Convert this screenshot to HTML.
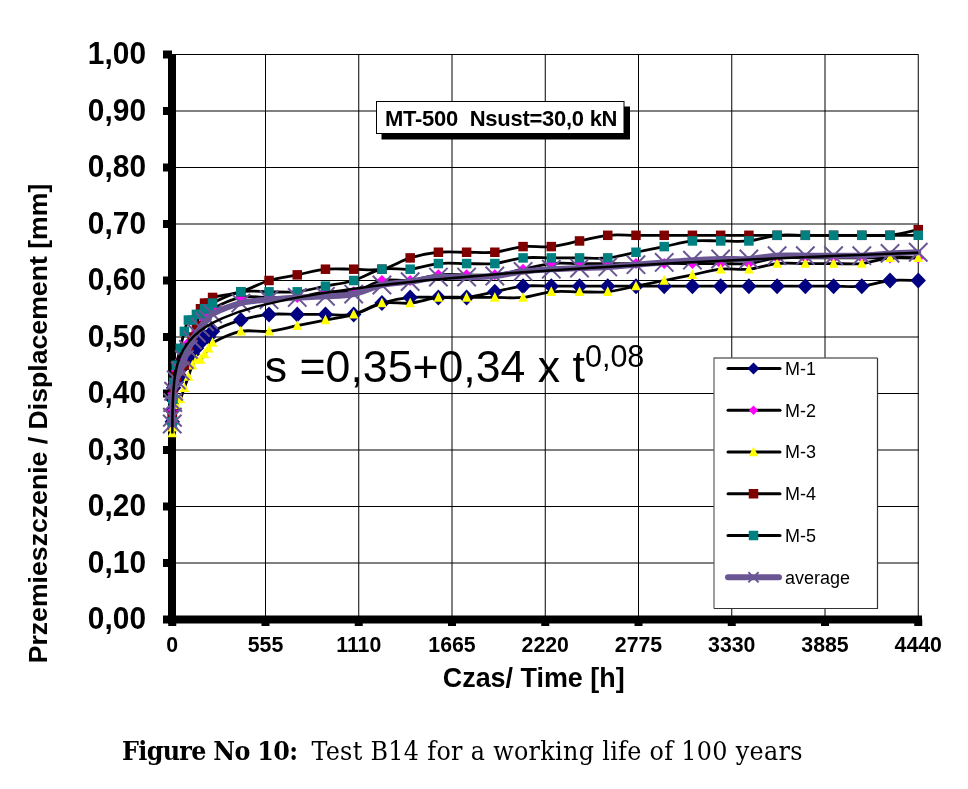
<!DOCTYPE html><html><head><meta charset="utf-8"><title>Figure No 10</title><style>
html,body{margin:0;padding:0;background:#fff;width:968px;height:789px;overflow:hidden}
svg{display:block;will-change:transform}
.ax{font-family:"Liberation Sans",Arial,sans-serif;font-weight:bold}
.rg{font-family:"Liberation Sans",Arial,sans-serif}
.sf{font-family:"DejaVu Serif Condensed","DejaVu Serif","Liberation Serif",serif}
</style></head><body>
<svg width="968" height="789" viewBox="0 0 968 789">
<rect width="968" height="789" fill="#fff"/>
<path d="M172 54.50H918.5 M172 111.00H918.5 M172 167.50H918.5 M172 224.00H918.5 M172 280.50H918.5 M172 337.00H918.5 M172 393.50H918.5 M172 450.00H918.5 M172 506.50H918.5 M172 563.00H918.5 M265.50 54.5V619.5 M358.75 54.5V619.5 M452.00 54.5V619.5 M545.25 54.5V619.5 M638.50 54.5V619.5 M731.75 54.5V619.5 M825.00 54.5V619.5 M918.25 54.5V619.5" stroke="#000" stroke-width="1" fill="none"/>
<g fill="#000">
<rect x="168" y="54.5" width="8" height="569"/>
<rect x="168" y="615.5" width="754" height="8"/>
<rect x="163" y="615.50" width="9" height="8"/>
<rect x="163" y="559.00" width="9" height="8"/>
<rect x="163" y="502.50" width="9" height="8"/>
<rect x="163" y="446.00" width="9" height="8"/>
<rect x="163" y="389.50" width="9" height="8"/>
<rect x="163" y="333.00" width="9" height="8"/>
<rect x="163" y="276.50" width="9" height="8"/>
<rect x="163" y="220.00" width="9" height="8"/>
<rect x="163" y="163.50" width="9" height="8"/>
<rect x="163" y="107.00" width="9" height="8"/>
<rect x="163" y="50.50" width="9" height="8"/>
<rect x="168.25" y="619.5" width="8" height="6.5"/>
<rect x="261.50" y="619.5" width="8" height="6.5"/>
<rect x="354.75" y="619.5" width="8" height="6.5"/>
<rect x="448.00" y="619.5" width="8" height="6.5"/>
<rect x="541.25" y="619.5" width="8" height="6.5"/>
<rect x="634.50" y="619.5" width="8" height="6.5"/>
<rect x="727.75" y="619.5" width="8" height="6.5"/>
<rect x="821.00" y="619.5" width="8" height="6.5"/>
<rect x="914.25" y="619.5" width="8" height="6.5"/>
</g>
<text x="264.8" y="381.5" class="rg" font-size="44.65" fill="#000">s =0,35+0,34 x t<tspan font-size="30.5" dy="-14.6">0,08</tspan></text>
<rect x="381.5" y="106.5" width="248.5" height="33" fill="#000"/>
<rect x="376.5" y="101.5" width="247.5" height="32" fill="#fff" stroke="#000" stroke-width="1"/>
<text x="385" y="126" class="ax" font-size="22" xml:space="preserve" style="white-space:pre" textLength="232.5" lengthAdjust="spacing">MT-500  Nsust=30,0 kN</text>
<path d="M172.25 421.75 C172.28 419.87 172.33 414.22 172.42 410.45 C172.50 406.68 172.56 402.92 172.75 399.15 C172.95 395.38 173.01 390.68 173.59 387.85 C174.18 385.03 175.16 384.08 176.28 382.20 C177.40 380.32 178.97 379.38 180.31 376.55 C181.66 373.73 183.00 368.07 184.35 365.25 C185.69 362.43 187.04 361.48 188.38 359.60 C189.72 357.72 191.07 355.83 192.41 353.95 C193.76 352.07 195.10 350.18 196.44 348.30 C197.79 346.42 199.13 344.53 200.48 342.65 C201.82 340.77 203.17 337.94 204.51 337.00 C205.85 336.06 207.20 337.94 208.54 337.00 C209.89 336.06 207.20 334.18 212.57 331.35 C217.95 328.53 231.39 322.88 240.80 320.05 C250.21 317.23 259.62 315.34 269.03 314.40 C278.44 313.46 287.85 314.40 297.26 314.40 C306.66 314.40 316.07 314.40 325.48 314.40 C334.89 314.40 344.30 316.28 353.71 314.40 C363.12 312.52 372.53 305.92 381.94 303.10 C391.35 300.27 400.75 298.39 410.16 297.45 C419.57 296.51 428.98 297.45 438.39 297.45 C447.80 297.45 457.21 298.39 466.62 297.45 C476.03 296.51 485.44 293.68 494.84 291.80 C504.25 289.92 513.66 287.09 523.07 286.15 C532.48 285.21 541.89 286.15 551.30 286.15 C560.71 286.15 570.12 286.15 579.53 286.15 C588.93 286.15 598.34 286.15 607.75 286.15 C617.16 286.15 626.57 286.15 635.98 286.15 C645.39 286.15 654.80 286.15 664.21 286.15 C673.62 286.15 683.02 286.15 692.43 286.15 C701.84 286.15 711.25 286.15 720.66 286.15 C730.07 286.15 739.48 286.15 748.89 286.15 C758.30 286.15 767.71 286.15 777.11 286.15 C786.52 286.15 795.93 286.15 805.34 286.15 C814.75 286.15 824.16 286.15 833.57 286.15 C842.98 286.15 852.39 287.09 861.80 286.15 C871.20 285.21 880.61 281.44 890.02 280.50 C899.43 279.56 913.55 280.50 918.25 280.50" stroke="#000" stroke-width="2.8" fill="none" stroke-linejoin="round" stroke-linecap="round"/>
<path d="M172.25 413.75L179.95 421.75L172.25 429.75L164.55 421.75Z" fill="#000080"/><path d="M172.42 402.45L180.12 410.45L172.42 418.45L164.72 410.45Z" fill="#000080"/><path d="M172.75 391.15L180.45 399.15L172.75 407.15L165.05 399.15Z" fill="#000080"/><path d="M173.59 379.85L181.29 387.85L173.59 395.85L165.89 387.85Z" fill="#000080"/><path d="M176.28 374.20L183.98 382.20L176.28 390.20L168.58 382.20Z" fill="#000080"/><path d="M180.31 368.55L188.01 376.55L180.31 384.55L172.61 376.55Z" fill="#000080"/><path d="M184.35 357.25L192.05 365.25L184.35 373.25L176.65 365.25Z" fill="#000080"/><path d="M188.38 351.60L196.08 359.60L188.38 367.60L180.68 359.60Z" fill="#000080"/><path d="M192.41 345.95L200.11 353.95L192.41 361.95L184.71 353.95Z" fill="#000080"/><path d="M196.44 340.30L204.14 348.30L196.44 356.30L188.74 348.30Z" fill="#000080"/><path d="M200.48 334.65L208.18 342.65L200.48 350.65L192.78 342.65Z" fill="#000080"/><path d="M204.51 329.00L212.21 337.00L204.51 345.00L196.81 337.00Z" fill="#000080"/><path d="M208.54 329.00L216.24 337.00L208.54 345.00L200.84 337.00Z" fill="#000080"/><path d="M212.57 323.35L220.27 331.35L212.57 339.35L204.87 331.35Z" fill="#000080"/><path d="M240.80 312.05L248.50 320.05L240.80 328.05L233.10 320.05Z" fill="#000080"/><path d="M269.03 306.40L276.73 314.40L269.03 322.40L261.33 314.40Z" fill="#000080"/><path d="M297.26 306.40L304.96 314.40L297.26 322.40L289.56 314.40Z" fill="#000080"/><path d="M325.48 306.40L333.18 314.40L325.48 322.40L317.78 314.40Z" fill="#000080"/><path d="M353.71 306.40L361.41 314.40L353.71 322.40L346.01 314.40Z" fill="#000080"/><path d="M381.94 295.10L389.64 303.10L381.94 311.10L374.24 303.10Z" fill="#000080"/><path d="M410.16 289.45L417.86 297.45L410.16 305.45L402.46 297.45Z" fill="#000080"/><path d="M438.39 289.45L446.09 297.45L438.39 305.45L430.69 297.45Z" fill="#000080"/><path d="M466.62 289.45L474.32 297.45L466.62 305.45L458.92 297.45Z" fill="#000080"/><path d="M494.84 283.80L502.54 291.80L494.84 299.80L487.14 291.80Z" fill="#000080"/><path d="M523.07 278.15L530.77 286.15L523.07 294.15L515.37 286.15Z" fill="#000080"/><path d="M551.30 278.15L559.00 286.15L551.30 294.15L543.60 286.15Z" fill="#000080"/><path d="M579.53 278.15L587.23 286.15L579.53 294.15L571.83 286.15Z" fill="#000080"/><path d="M607.75 278.15L615.45 286.15L607.75 294.15L600.05 286.15Z" fill="#000080"/><path d="M635.98 278.15L643.68 286.15L635.98 294.15L628.28 286.15Z" fill="#000080"/><path d="M664.21 278.15L671.91 286.15L664.21 294.15L656.51 286.15Z" fill="#000080"/><path d="M692.43 278.15L700.13 286.15L692.43 294.15L684.73 286.15Z" fill="#000080"/><path d="M720.66 278.15L728.36 286.15L720.66 294.15L712.96 286.15Z" fill="#000080"/><path d="M748.89 278.15L756.59 286.15L748.89 294.15L741.19 286.15Z" fill="#000080"/><path d="M777.11 278.15L784.81 286.15L777.11 294.15L769.41 286.15Z" fill="#000080"/><path d="M805.34 278.15L813.04 286.15L805.34 294.15L797.64 286.15Z" fill="#000080"/><path d="M833.57 278.15L841.27 286.15L833.57 294.15L825.87 286.15Z" fill="#000080"/><path d="M861.80 278.15L869.50 286.15L861.80 294.15L854.10 286.15Z" fill="#000080"/><path d="M890.02 272.50L897.72 280.50L890.02 288.50L882.32 280.50Z" fill="#000080"/><path d="M918.25 272.50L925.95 280.50L918.25 288.50L910.55 280.50Z" fill="#000080"/>
<path d="M172.25 427.40 C172.28 424.57 172.33 416.10 172.42 410.45 C172.50 404.80 172.56 398.21 172.75 393.50 C172.95 388.79 173.01 385.97 173.59 382.20 C174.18 378.43 175.16 374.67 176.28 370.90 C177.40 367.13 178.97 363.37 180.31 359.60 C181.66 355.83 183.00 351.12 184.35 348.30 C185.69 345.48 187.04 344.53 188.38 342.65 C189.72 340.77 191.07 338.88 192.41 337.00 C193.76 335.12 195.10 333.23 196.44 331.35 C197.79 329.47 199.13 327.58 200.48 325.70 C201.82 323.82 203.17 321.93 204.51 320.05 C205.85 318.17 207.20 316.28 208.54 314.40 C209.89 312.52 207.20 311.57 212.57 308.75 C217.95 305.93 231.39 299.33 240.80 297.45 C250.21 295.57 259.62 297.45 269.03 297.45 C278.44 297.45 287.85 298.39 297.26 297.45 C306.66 296.51 316.07 292.74 325.48 291.80 C334.89 290.86 344.30 293.68 353.71 291.80 C363.12 289.92 372.53 282.38 381.94 280.50 C391.35 278.62 400.75 281.44 410.16 280.50 C419.57 279.56 428.98 275.79 438.39 274.85 C447.80 273.91 457.21 274.85 466.62 274.85 C476.03 274.85 485.44 275.79 494.84 274.85 C504.25 273.91 513.66 271.08 523.07 269.20 C532.48 267.32 541.89 264.49 551.30 263.55 C560.71 262.61 570.12 263.55 579.53 263.55 C588.93 263.55 598.34 263.55 607.75 263.55 C617.16 263.55 626.57 263.55 635.98 263.55 C645.39 263.55 654.80 263.55 664.21 263.55 C673.62 263.55 683.02 263.55 692.43 263.55 C701.84 263.55 711.25 263.55 720.66 263.55 C730.07 263.55 739.48 264.49 748.89 263.55 C758.30 262.61 767.71 258.84 777.11 257.90 C786.52 256.96 795.93 257.90 805.34 257.90 C814.75 257.90 824.16 257.90 833.57 257.90 C842.98 257.90 852.39 257.90 861.80 257.90 C871.20 257.90 880.61 257.90 890.02 257.90 C899.43 257.90 913.55 257.90 918.25 257.90" stroke="#000" stroke-width="2.8" fill="none" stroke-linejoin="round" stroke-linecap="round"/>
<path d="M172.25 421.90L177.75 427.40L172.25 432.90L166.75 427.40Z" fill="#FF00FF"/><path d="M172.42 404.95L177.92 410.45L172.42 415.95L166.92 410.45Z" fill="#FF00FF"/><path d="M172.75 388.00L178.25 393.50L172.75 399.00L167.25 393.50Z" fill="#FF00FF"/><path d="M173.59 376.70L179.09 382.20L173.59 387.70L168.09 382.20Z" fill="#FF00FF"/><path d="M176.28 365.40L181.78 370.90L176.28 376.40L170.78 370.90Z" fill="#FF00FF"/><path d="M180.31 354.10L185.81 359.60L180.31 365.10L174.81 359.60Z" fill="#FF00FF"/><path d="M184.35 342.80L189.85 348.30L184.35 353.80L178.85 348.30Z" fill="#FF00FF"/><path d="M188.38 337.15L193.88 342.65L188.38 348.15L182.88 342.65Z" fill="#FF00FF"/><path d="M192.41 331.50L197.91 337.00L192.41 342.50L186.91 337.00Z" fill="#FF00FF"/><path d="M196.44 325.85L201.94 331.35L196.44 336.85L190.94 331.35Z" fill="#FF00FF"/><path d="M200.48 320.20L205.98 325.70L200.48 331.20L194.98 325.70Z" fill="#FF00FF"/><path d="M204.51 314.55L210.01 320.05L204.51 325.55L199.01 320.05Z" fill="#FF00FF"/><path d="M208.54 308.90L214.04 314.40L208.54 319.90L203.04 314.40Z" fill="#FF00FF"/><path d="M212.57 303.25L218.07 308.75L212.57 314.25L207.07 308.75Z" fill="#FF00FF"/><path d="M240.80 291.95L246.30 297.45L240.80 302.95L235.30 297.45Z" fill="#FF00FF"/><path d="M269.03 291.95L274.53 297.45L269.03 302.95L263.53 297.45Z" fill="#FF00FF"/><path d="M297.26 291.95L302.76 297.45L297.26 302.95L291.76 297.45Z" fill="#FF00FF"/><path d="M325.48 286.30L330.98 291.80L325.48 297.30L319.98 291.80Z" fill="#FF00FF"/><path d="M353.71 286.30L359.21 291.80L353.71 297.30L348.21 291.80Z" fill="#FF00FF"/><path d="M381.94 275.00L387.44 280.50L381.94 286.00L376.44 280.50Z" fill="#FF00FF"/><path d="M410.16 275.00L415.66 280.50L410.16 286.00L404.66 280.50Z" fill="#FF00FF"/><path d="M438.39 269.35L443.89 274.85L438.39 280.35L432.89 274.85Z" fill="#FF00FF"/><path d="M466.62 269.35L472.12 274.85L466.62 280.35L461.12 274.85Z" fill="#FF00FF"/><path d="M494.84 269.35L500.34 274.85L494.84 280.35L489.34 274.85Z" fill="#FF00FF"/><path d="M523.07 263.70L528.57 269.20L523.07 274.70L517.57 269.20Z" fill="#FF00FF"/><path d="M551.30 258.05L556.80 263.55L551.30 269.05L545.80 263.55Z" fill="#FF00FF"/><path d="M579.53 258.05L585.03 263.55L579.53 269.05L574.03 263.55Z" fill="#FF00FF"/><path d="M607.75 258.05L613.25 263.55L607.75 269.05L602.25 263.55Z" fill="#FF00FF"/><path d="M635.98 258.05L641.48 263.55L635.98 269.05L630.48 263.55Z" fill="#FF00FF"/><path d="M664.21 258.05L669.71 263.55L664.21 269.05L658.71 263.55Z" fill="#FF00FF"/><path d="M692.43 258.05L697.93 263.55L692.43 269.05L686.93 263.55Z" fill="#FF00FF"/><path d="M720.66 258.05L726.16 263.55L720.66 269.05L715.16 263.55Z" fill="#FF00FF"/><path d="M748.89 258.05L754.39 263.55L748.89 269.05L743.39 263.55Z" fill="#FF00FF"/><path d="M777.11 252.40L782.61 257.90L777.11 263.40L771.61 257.90Z" fill="#FF00FF"/><path d="M805.34 252.40L810.84 257.90L805.34 263.40L799.84 257.90Z" fill="#FF00FF"/><path d="M833.57 252.40L839.07 257.90L833.57 263.40L828.07 257.90Z" fill="#FF00FF"/><path d="M861.80 252.40L867.30 257.90L861.80 263.40L856.30 257.90Z" fill="#FF00FF"/><path d="M890.02 252.40L895.52 257.90L890.02 263.40L884.52 257.90Z" fill="#FF00FF"/><path d="M918.25 252.40L923.75 257.90L918.25 263.40L912.75 257.90Z" fill="#FF00FF"/>
<path d="M172.25 433.05 C172.28 432.11 172.33 429.28 172.42 427.40 C172.50 425.52 172.56 423.63 172.75 421.75 C172.95 419.87 173.01 418.93 173.59 416.10 C174.18 413.28 175.16 407.62 176.28 404.80 C177.40 401.98 178.97 401.97 180.31 399.15 C181.66 396.32 183.00 391.62 184.35 387.85 C185.69 384.08 187.04 380.32 188.38 376.55 C189.72 372.78 191.07 368.07 192.41 365.25 C193.76 362.43 195.10 360.54 196.44 359.60 C197.79 358.66 199.13 360.54 200.48 359.60 C201.82 358.66 203.17 355.83 204.51 353.95 C205.85 352.07 207.20 350.18 208.54 348.30 C209.89 346.42 207.20 345.47 212.57 342.65 C217.95 339.82 231.39 333.23 240.80 331.35 C250.21 329.47 259.62 332.29 269.03 331.35 C278.44 330.41 287.85 327.58 297.26 325.70 C306.66 323.82 316.07 321.93 325.48 320.05 C334.89 318.17 344.30 317.22 353.71 314.40 C363.12 311.57 372.53 304.98 381.94 303.10 C391.35 301.22 400.75 304.04 410.16 303.10 C419.57 302.16 428.98 298.39 438.39 297.45 C447.80 296.51 457.21 297.45 466.62 297.45 C476.03 297.45 485.44 297.45 494.84 297.45 C504.25 297.45 513.66 298.39 523.07 297.45 C532.48 296.51 541.89 292.74 551.30 291.80 C560.71 290.86 570.12 291.80 579.53 291.80 C588.93 291.80 598.34 292.74 607.75 291.80 C617.16 290.86 626.57 288.03 635.98 286.15 C645.39 284.27 654.80 282.38 664.21 280.50 C673.62 278.62 683.02 276.73 692.43 274.85 C701.84 272.97 711.25 270.14 720.66 269.20 C730.07 268.26 739.48 270.14 748.89 269.20 C758.30 268.26 767.71 264.49 777.11 263.55 C786.52 262.61 795.93 263.55 805.34 263.55 C814.75 263.55 824.16 263.55 833.57 263.55 C842.98 263.55 852.39 264.49 861.80 263.55 C871.20 262.61 880.61 258.84 890.02 257.90 C899.43 256.96 913.55 257.90 918.25 257.90" stroke="#000" stroke-width="2.8" fill="none" stroke-linejoin="round" stroke-linecap="round"/>
<path d="M172.25 427.55L177.05 437.25L167.45 437.25Z" fill="#FFFF00"/><path d="M172.42 421.90L177.22 431.60L167.62 431.60Z" fill="#FFFF00"/><path d="M172.75 416.25L177.55 425.95L167.95 425.95Z" fill="#FFFF00"/><path d="M173.59 410.60L178.39 420.30L168.79 420.30Z" fill="#FFFF00"/><path d="M176.28 399.30L181.08 409.00L171.48 409.00Z" fill="#FFFF00"/><path d="M180.31 393.65L185.11 403.35L175.51 403.35Z" fill="#FFFF00"/><path d="M184.35 382.35L189.15 392.05L179.55 392.05Z" fill="#FFFF00"/><path d="M188.38 371.05L193.18 380.75L183.58 380.75Z" fill="#FFFF00"/><path d="M192.41 359.75L197.21 369.45L187.61 369.45Z" fill="#FFFF00"/><path d="M196.44 354.10L201.24 363.80L191.64 363.80Z" fill="#FFFF00"/><path d="M200.48 354.10L205.28 363.80L195.68 363.80Z" fill="#FFFF00"/><path d="M204.51 348.45L209.31 358.15L199.71 358.15Z" fill="#FFFF00"/><path d="M208.54 342.80L213.34 352.50L203.74 352.50Z" fill="#FFFF00"/><path d="M212.57 337.15L217.37 346.85L207.77 346.85Z" fill="#FFFF00"/><path d="M240.80 325.85L245.60 335.55L236.00 335.55Z" fill="#FFFF00"/><path d="M269.03 325.85L273.83 335.55L264.23 335.55Z" fill="#FFFF00"/><path d="M297.26 320.20L302.06 329.90L292.46 329.90Z" fill="#FFFF00"/><path d="M325.48 314.55L330.28 324.25L320.68 324.25Z" fill="#FFFF00"/><path d="M353.71 308.90L358.51 318.60L348.91 318.60Z" fill="#FFFF00"/><path d="M381.94 297.60L386.74 307.30L377.14 307.30Z" fill="#FFFF00"/><path d="M410.16 297.60L414.96 307.30L405.36 307.30Z" fill="#FFFF00"/><path d="M438.39 291.95L443.19 301.65L433.59 301.65Z" fill="#FFFF00"/><path d="M466.62 291.95L471.42 301.65L461.82 301.65Z" fill="#FFFF00"/><path d="M494.84 291.95L499.64 301.65L490.04 301.65Z" fill="#FFFF00"/><path d="M523.07 291.95L527.87 301.65L518.27 301.65Z" fill="#FFFF00"/><path d="M551.30 286.30L556.10 296.00L546.50 296.00Z" fill="#FFFF00"/><path d="M579.53 286.30L584.33 296.00L574.73 296.00Z" fill="#FFFF00"/><path d="M607.75 286.30L612.55 296.00L602.95 296.00Z" fill="#FFFF00"/><path d="M635.98 280.65L640.78 290.35L631.18 290.35Z" fill="#FFFF00"/><path d="M664.21 275.00L669.01 284.70L659.41 284.70Z" fill="#FFFF00"/><path d="M692.43 269.35L697.23 279.05L687.63 279.05Z" fill="#FFFF00"/><path d="M720.66 263.70L725.46 273.40L715.86 273.40Z" fill="#FFFF00"/><path d="M748.89 263.70L753.69 273.40L744.09 273.40Z" fill="#FFFF00"/><path d="M777.11 258.05L781.91 267.75L772.31 267.75Z" fill="#FFFF00"/><path d="M805.34 258.05L810.14 267.75L800.54 267.75Z" fill="#FFFF00"/><path d="M833.57 258.05L838.37 267.75L828.77 267.75Z" fill="#FFFF00"/><path d="M861.80 258.05L866.60 267.75L857.00 267.75Z" fill="#FFFF00"/><path d="M890.02 252.40L894.82 262.10L885.22 262.10Z" fill="#FFFF00"/><path d="M918.25 252.40L923.05 262.10L913.45 262.10Z" fill="#FFFF00"/>
<path d="M172.25 416.10 C172.28 416.10 172.33 418.93 172.42 416.10 C172.50 413.28 172.56 403.86 172.75 399.15 C172.95 394.44 173.01 391.62 173.59 387.85 C174.18 384.08 175.16 379.38 176.28 376.55 C177.40 373.73 178.97 372.78 180.31 370.90 C181.66 369.02 183.00 369.02 184.35 365.25 C185.69 361.48 187.04 353.01 188.38 348.30 C189.72 343.59 191.07 340.77 192.41 337.00 C193.76 333.23 195.10 330.41 196.44 325.70 C197.79 320.99 199.13 312.52 200.48 308.75 C201.82 304.98 203.17 304.04 204.51 303.10 C205.85 302.16 207.20 304.04 208.54 303.10 C209.89 302.16 207.20 299.33 212.57 297.45 C217.95 295.57 231.39 294.62 240.80 291.80 C250.21 288.98 259.62 283.32 269.03 280.50 C278.44 277.68 287.85 276.73 297.26 274.85 C306.66 272.97 316.07 270.14 325.48 269.20 C334.89 268.26 344.30 269.20 353.71 269.20 C363.12 269.20 372.53 271.08 381.94 269.20 C391.35 267.32 400.75 260.72 410.16 257.90 C419.57 255.07 428.98 253.19 438.39 252.25 C447.80 251.31 457.21 252.25 466.62 252.25 C476.03 252.25 485.44 253.19 494.84 252.25 C504.25 251.31 513.66 247.54 523.07 246.60 C532.48 245.66 541.89 247.54 551.30 246.60 C560.71 245.66 570.12 242.83 579.53 240.95 C588.93 239.07 598.34 236.24 607.75 235.30 C617.16 234.36 626.57 235.30 635.98 235.30 C645.39 235.30 654.80 235.30 664.21 235.30 C673.62 235.30 683.02 235.30 692.43 235.30 C701.84 235.30 711.25 235.30 720.66 235.30 C730.07 235.30 739.48 235.30 748.89 235.30 C758.30 235.30 767.71 235.30 777.11 235.30 C786.52 235.30 795.93 235.30 805.34 235.30 C814.75 235.30 824.16 235.30 833.57 235.30 C842.98 235.30 852.39 235.30 861.80 235.30 C871.20 235.30 880.61 236.24 890.02 235.30 C899.43 234.36 913.55 230.59 918.25 229.65" stroke="#000" stroke-width="2.8" fill="none" stroke-linejoin="round" stroke-linecap="round"/>
<rect x="167.50" y="411.35" width="9.5" height="9.5" fill="#800000"/><rect x="167.67" y="411.35" width="9.5" height="9.5" fill="#800000"/><rect x="168.00" y="394.40" width="9.5" height="9.5" fill="#800000"/><rect x="168.84" y="383.10" width="9.5" height="9.5" fill="#800000"/><rect x="171.53" y="371.80" width="9.5" height="9.5" fill="#800000"/><rect x="175.56" y="366.15" width="9.5" height="9.5" fill="#800000"/><rect x="179.60" y="360.50" width="9.5" height="9.5" fill="#800000"/><rect x="183.63" y="343.55" width="9.5" height="9.5" fill="#800000"/><rect x="187.66" y="332.25" width="9.5" height="9.5" fill="#800000"/><rect x="191.69" y="320.95" width="9.5" height="9.5" fill="#800000"/><rect x="195.73" y="304.00" width="9.5" height="9.5" fill="#800000"/><rect x="199.76" y="298.35" width="9.5" height="9.5" fill="#800000"/><rect x="203.79" y="298.35" width="9.5" height="9.5" fill="#800000"/><rect x="207.82" y="292.70" width="9.5" height="9.5" fill="#800000"/><rect x="236.05" y="287.05" width="9.5" height="9.5" fill="#800000"/><rect x="264.28" y="275.75" width="9.5" height="9.5" fill="#800000"/><rect x="292.51" y="270.10" width="9.5" height="9.5" fill="#800000"/><rect x="320.73" y="264.45" width="9.5" height="9.5" fill="#800000"/><rect x="348.96" y="264.45" width="9.5" height="9.5" fill="#800000"/><rect x="377.19" y="264.45" width="9.5" height="9.5" fill="#800000"/><rect x="405.41" y="253.15" width="9.5" height="9.5" fill="#800000"/><rect x="433.64" y="247.50" width="9.5" height="9.5" fill="#800000"/><rect x="461.87" y="247.50" width="9.5" height="9.5" fill="#800000"/><rect x="490.09" y="247.50" width="9.5" height="9.5" fill="#800000"/><rect x="518.32" y="241.85" width="9.5" height="9.5" fill="#800000"/><rect x="546.55" y="241.85" width="9.5" height="9.5" fill="#800000"/><rect x="574.78" y="236.20" width="9.5" height="9.5" fill="#800000"/><rect x="603.00" y="230.55" width="9.5" height="9.5" fill="#800000"/><rect x="631.23" y="230.55" width="9.5" height="9.5" fill="#800000"/><rect x="659.46" y="230.55" width="9.5" height="9.5" fill="#800000"/><rect x="687.68" y="230.55" width="9.5" height="9.5" fill="#800000"/><rect x="715.91" y="230.55" width="9.5" height="9.5" fill="#800000"/><rect x="744.14" y="230.55" width="9.5" height="9.5" fill="#800000"/><rect x="772.36" y="230.55" width="9.5" height="9.5" fill="#800000"/><rect x="800.59" y="230.55" width="9.5" height="9.5" fill="#800000"/><rect x="828.82" y="230.55" width="9.5" height="9.5" fill="#800000"/><rect x="857.05" y="230.55" width="9.5" height="9.5" fill="#800000"/><rect x="885.27" y="230.55" width="9.5" height="9.5" fill="#800000"/><rect x="913.50" y="224.90" width="9.5" height="9.5" fill="#800000"/>
<path d="M172.25 421.75 C172.28 421.75 172.33 425.52 172.42 421.75 C172.50 417.98 172.56 405.74 172.75 399.15 C172.95 392.56 173.01 387.85 173.59 382.20 C174.18 376.55 175.16 370.90 176.28 365.25 C177.40 359.60 178.97 353.95 180.31 348.30 C181.66 342.65 183.00 336.06 184.35 331.35 C185.69 326.64 187.04 321.93 188.38 320.05 C189.72 318.17 191.07 320.99 192.41 320.05 C193.76 319.11 195.10 315.34 196.44 314.40 C197.79 313.46 199.13 315.34 200.48 314.40 C201.82 313.46 203.17 309.69 204.51 308.75 C205.85 307.81 207.20 309.69 208.54 308.75 C209.89 307.81 207.20 305.92 212.57 303.10 C217.95 300.27 231.39 293.68 240.80 291.80 C250.21 289.92 259.62 291.80 269.03 291.80 C278.44 291.80 287.85 292.74 297.26 291.80 C306.66 290.86 316.07 288.03 325.48 286.15 C334.89 284.27 344.30 283.32 353.71 280.50 C363.12 277.68 372.53 271.08 381.94 269.20 C391.35 267.32 400.75 270.14 410.16 269.20 C419.57 268.26 428.98 264.49 438.39 263.55 C447.80 262.61 457.21 263.55 466.62 263.55 C476.03 263.55 485.44 264.49 494.84 263.55 C504.25 262.61 513.66 258.84 523.07 257.90 C532.48 256.96 541.89 257.90 551.30 257.90 C560.71 257.90 570.12 257.90 579.53 257.90 C588.93 257.90 598.34 258.84 607.75 257.90 C617.16 256.96 626.57 254.13 635.98 252.25 C645.39 250.37 654.80 248.48 664.21 246.60 C673.62 244.72 683.02 241.89 692.43 240.95 C701.84 240.01 711.25 240.95 720.66 240.95 C730.07 240.95 739.48 241.89 748.89 240.95 C758.30 240.01 767.71 236.24 777.11 235.30 C786.52 234.36 795.93 235.30 805.34 235.30 C814.75 235.30 824.16 235.30 833.57 235.30 C842.98 235.30 852.39 235.30 861.80 235.30 C871.20 235.30 880.61 235.30 890.02 235.30 C899.43 235.30 913.55 235.30 918.25 235.30" stroke="#000" stroke-width="2.8" fill="none" stroke-linejoin="round" stroke-linecap="round"/>
<rect x="167.50" y="417.00" width="9.5" height="9.5" fill="#008080"/><rect x="167.67" y="417.00" width="9.5" height="9.5" fill="#008080"/><rect x="168.00" y="394.40" width="9.5" height="9.5" fill="#008080"/><rect x="168.84" y="377.45" width="9.5" height="9.5" fill="#008080"/><rect x="171.53" y="360.50" width="9.5" height="9.5" fill="#008080"/><rect x="175.56" y="343.55" width="9.5" height="9.5" fill="#008080"/><rect x="179.60" y="326.60" width="9.5" height="9.5" fill="#008080"/><rect x="183.63" y="315.30" width="9.5" height="9.5" fill="#008080"/><rect x="187.66" y="315.30" width="9.5" height="9.5" fill="#008080"/><rect x="191.69" y="309.65" width="9.5" height="9.5" fill="#008080"/><rect x="195.73" y="309.65" width="9.5" height="9.5" fill="#008080"/><rect x="199.76" y="304.00" width="9.5" height="9.5" fill="#008080"/><rect x="203.79" y="304.00" width="9.5" height="9.5" fill="#008080"/><rect x="207.82" y="298.35" width="9.5" height="9.5" fill="#008080"/><rect x="236.05" y="287.05" width="9.5" height="9.5" fill="#008080"/><rect x="264.28" y="287.05" width="9.5" height="9.5" fill="#008080"/><rect x="292.51" y="287.05" width="9.5" height="9.5" fill="#008080"/><rect x="320.73" y="281.40" width="9.5" height="9.5" fill="#008080"/><rect x="348.96" y="275.75" width="9.5" height="9.5" fill="#008080"/><rect x="377.19" y="264.45" width="9.5" height="9.5" fill="#008080"/><rect x="405.41" y="264.45" width="9.5" height="9.5" fill="#008080"/><rect x="433.64" y="258.80" width="9.5" height="9.5" fill="#008080"/><rect x="461.87" y="258.80" width="9.5" height="9.5" fill="#008080"/><rect x="490.09" y="258.80" width="9.5" height="9.5" fill="#008080"/><rect x="518.32" y="253.15" width="9.5" height="9.5" fill="#008080"/><rect x="546.55" y="253.15" width="9.5" height="9.5" fill="#008080"/><rect x="574.78" y="253.15" width="9.5" height="9.5" fill="#008080"/><rect x="603.00" y="253.15" width="9.5" height="9.5" fill="#008080"/><rect x="631.23" y="247.50" width="9.5" height="9.5" fill="#008080"/><rect x="659.46" y="241.85" width="9.5" height="9.5" fill="#008080"/><rect x="687.68" y="236.20" width="9.5" height="9.5" fill="#008080"/><rect x="715.91" y="236.20" width="9.5" height="9.5" fill="#008080"/><rect x="744.14" y="236.20" width="9.5" height="9.5" fill="#008080"/><rect x="772.36" y="230.55" width="9.5" height="9.5" fill="#008080"/><rect x="800.59" y="230.55" width="9.5" height="9.5" fill="#008080"/><rect x="828.82" y="230.55" width="9.5" height="9.5" fill="#008080"/><rect x="857.05" y="230.55" width="9.5" height="9.5" fill="#008080"/><rect x="885.27" y="230.55" width="9.5" height="9.5" fill="#008080"/><rect x="913.50" y="230.55" width="9.5" height="9.5" fill="#008080"/>
<path d="M172.25 424.01 C172.28 422.88 172.33 420.81 172.42 417.23 C172.50 413.65 172.56 406.87 172.75 402.54 C172.95 398.21 173.01 395.01 173.59 391.24 C174.18 387.47 175.16 383.33 176.28 379.94 C177.40 376.55 178.97 374.29 180.31 370.90 C181.66 367.51 183.00 363.18 184.35 359.60 C185.69 356.02 187.04 352.73 188.38 349.43 C189.72 346.13 191.07 342.56 192.41 339.82 C193.76 337.09 195.10 335.12 196.44 333.05 C197.79 330.97 199.13 329.28 200.48 327.39 C201.82 325.51 203.17 323.06 204.51 321.75 C205.85 320.43 207.20 320.80 208.54 319.48 C209.89 318.17 207.20 316.57 212.57 313.83 C217.95 311.10 231.39 305.45 240.80 303.10 C250.21 300.75 259.62 300.65 269.03 299.71 C278.44 298.77 287.85 298.02 297.26 297.45 C306.66 296.89 316.07 296.89 325.48 296.32 C334.89 295.76 344.30 295.94 353.71 294.06 C363.12 292.18 372.53 287.09 381.94 285.02 C391.35 282.95 400.75 282.95 410.16 281.63 C419.57 280.31 428.98 277.86 438.39 277.11 C447.80 276.36 457.21 277.30 466.62 277.11 C476.03 276.92 485.44 276.92 494.84 275.98 C504.25 275.04 513.66 272.59 523.07 271.46 C532.48 270.33 541.89 269.76 551.30 269.20 C560.71 268.63 570.12 268.45 579.53 268.07 C588.93 267.69 598.34 267.50 607.75 266.94 C617.16 266.38 626.57 265.43 635.98 264.68 C645.39 263.93 654.80 263.17 664.21 262.42 C673.62 261.67 683.02 260.72 692.43 260.16 C701.84 259.59 711.25 259.22 720.66 259.03 C730.07 258.84 739.48 259.59 748.89 259.03 C758.30 258.46 767.71 256.20 777.11 255.64 C786.52 255.07 795.93 255.64 805.34 255.64 C814.75 255.64 824.16 255.64 833.57 255.64 C842.98 255.64 852.39 256.02 861.80 255.64 C871.20 255.26 880.61 253.94 890.02 253.38 C899.43 252.81 913.55 252.44 918.25 252.25" stroke="#6B5694" stroke-width="6" fill="none" stroke-linejoin="round" stroke-linecap="round"/>
<path d="M163.05 414.81L181.45 433.21M163.05 433.21L181.45 414.81" stroke="#6B5694" stroke-width="2" fill="none"/><path d="M163.22 408.03L181.62 426.43M163.22 426.43L181.62 408.03" stroke="#6B5694" stroke-width="2" fill="none"/><path d="M163.55 393.34L181.95 411.74M163.55 411.74L181.95 393.34" stroke="#6B5694" stroke-width="2" fill="none"/><path d="M164.39 382.04L182.79 400.44M164.39 400.44L182.79 382.04" stroke="#6B5694" stroke-width="2" fill="none"/><path d="M167.08 370.74L185.48 389.14M167.08 389.14L185.48 370.74" stroke="#6B5694" stroke-width="2" fill="none"/><path d="M171.11 361.70L189.51 380.10M171.11 380.10L189.51 361.70" stroke="#6B5694" stroke-width="2" fill="none"/><path d="M175.15 350.40L193.55 368.80M175.15 368.80L193.55 350.40" stroke="#6B5694" stroke-width="2" fill="none"/><path d="M179.18 340.23L197.58 358.63M179.18 358.63L197.58 340.23" stroke="#6B5694" stroke-width="2" fill="none"/><path d="M183.21 330.62L201.61 349.02M183.21 349.02L201.61 330.62" stroke="#6B5694" stroke-width="2" fill="none"/><path d="M187.24 323.85L205.64 342.25M187.24 342.25L205.64 323.85" stroke="#6B5694" stroke-width="2" fill="none"/><path d="M191.28 318.19L209.68 336.59M191.28 336.59L209.68 318.19" stroke="#6B5694" stroke-width="2" fill="none"/><path d="M195.31 312.55L213.71 330.94M195.31 330.94L213.71 312.55" stroke="#6B5694" stroke-width="2" fill="none"/><path d="M199.34 310.28L217.74 328.68M199.34 328.68L217.74 310.28" stroke="#6B5694" stroke-width="2" fill="none"/><path d="M203.37 304.63L221.77 323.03M203.37 323.03L221.77 304.63" stroke="#6B5694" stroke-width="2" fill="none"/><path d="M231.60 293.90L250.00 312.30M231.60 312.30L250.00 293.90" stroke="#6B5694" stroke-width="2" fill="none"/><path d="M259.83 290.51L278.23 308.91M259.83 308.91L278.23 290.51" stroke="#6B5694" stroke-width="2" fill="none"/><path d="M288.06 288.25L306.46 306.65M288.06 306.65L306.46 288.25" stroke="#6B5694" stroke-width="2" fill="none"/><path d="M316.28 287.12L334.68 305.52M316.28 305.52L334.68 287.12" stroke="#6B5694" stroke-width="2" fill="none"/><path d="M344.51 284.86L362.91 303.26M344.51 303.26L362.91 284.86" stroke="#6B5694" stroke-width="2" fill="none"/><path d="M372.74 275.82L391.14 294.22M372.74 294.22L391.14 275.82" stroke="#6B5694" stroke-width="2" fill="none"/><path d="M400.96 272.43L419.36 290.83M400.96 290.83L419.36 272.43" stroke="#6B5694" stroke-width="2" fill="none"/><path d="M429.19 267.91L447.59 286.31M429.19 286.31L447.59 267.91" stroke="#6B5694" stroke-width="2" fill="none"/><path d="M457.42 267.91L475.82 286.31M457.42 286.31L475.82 267.91" stroke="#6B5694" stroke-width="2" fill="none"/><path d="M485.64 266.78L504.04 285.18M485.64 285.18L504.04 266.78" stroke="#6B5694" stroke-width="2" fill="none"/><path d="M513.87 262.26L532.27 280.66M513.87 280.66L532.27 262.26" stroke="#6B5694" stroke-width="2" fill="none"/><path d="M542.10 260.00L560.50 278.40M542.10 278.40L560.50 260.00" stroke="#6B5694" stroke-width="2" fill="none"/><path d="M570.33 258.87L588.73 277.27M570.33 277.27L588.73 258.87" stroke="#6B5694" stroke-width="2" fill="none"/><path d="M598.55 257.74L616.95 276.14M598.55 276.14L616.95 257.74" stroke="#6B5694" stroke-width="2" fill="none"/><path d="M626.78 255.48L645.18 273.88M626.78 273.88L645.18 255.48" stroke="#6B5694" stroke-width="2" fill="none"/><path d="M655.01 253.22L673.41 271.62M655.01 271.62L673.41 253.22" stroke="#6B5694" stroke-width="2" fill="none"/><path d="M683.23 250.96L701.63 269.36M683.23 269.36L701.63 250.96" stroke="#6B5694" stroke-width="2" fill="none"/><path d="M711.46 249.83L729.86 268.23M711.46 268.23L729.86 249.83" stroke="#6B5694" stroke-width="2" fill="none"/><path d="M739.69 249.83L758.09 268.23M739.69 268.23L758.09 249.83" stroke="#6B5694" stroke-width="2" fill="none"/><path d="M767.91 246.44L786.31 264.84M767.91 264.84L786.31 246.44" stroke="#6B5694" stroke-width="2" fill="none"/><path d="M796.14 246.44L814.54 264.84M796.14 264.84L814.54 246.44" stroke="#6B5694" stroke-width="2" fill="none"/><path d="M824.37 246.44L842.77 264.84M824.37 264.84L842.77 246.44" stroke="#6B5694" stroke-width="2" fill="none"/><path d="M852.60 246.44L871.00 264.84M852.60 264.84L871.00 246.44" stroke="#6B5694" stroke-width="2" fill="none"/><path d="M880.82 244.18L899.22 262.58M880.82 262.58L899.22 244.18" stroke="#6B5694" stroke-width="2" fill="none"/><path d="M909.05 243.05L927.45 261.45M909.05 261.45L927.45 243.05" stroke="#6B5694" stroke-width="2" fill="none"/>
<path d="M172.32 433.47 L172.35 427.89 L172.42 420.62 L172.50 414.65 L172.59 410.31 L172.75 404.04 L172.92 399.47 L173.26 392.87 L173.59 388.07 L174.27 381.12 L174.94 376.07 L176.28 368.77 L177.63 363.45 L180.31 355.77 L183.00 350.18 L188.38 342.10 L193.76 336.23 L199.13 331.58 L205.85 326.86 L212.57 322.94 L222.66 318.08 L239.46 311.69 L256.26 306.64 L289.86 298.87 L323.47 292.95 L373.87 286.02 L424.28 280.56 L508.29 273.37 L592.30 267.70 L676.30 262.99 L760.31 258.96 L844.32 255.43 L918.25 252.65" stroke="#000" stroke-width="2.5" fill="none" stroke-linejoin="round"/>
<rect x="714" y="358" width="163.5" height="250.5" fill="#fff"/>
<path d="M714 608.5V358H877.5" stroke="#6a6a6a" stroke-width="1.3" fill="none"/>
<path d="M877.5 358V608.5H714" stroke="#333" stroke-width="1.2" fill="none"/>
<path d="M728 368.50H780" stroke="#000" stroke-width="3" stroke-linecap="round"/>
<path d="M753.50 362.50L759.50 368.50L753.50 374.50L747.50 368.50Z" fill="#000080"/>
<text x="785" y="374.80" class="rg" font-size="18" fill="#000">M-1</text>
<path d="M728 410.25H780" stroke="#000" stroke-width="3" stroke-linecap="round"/>
<path d="M753.50 405.55L758.20 410.25L753.50 414.95L748.80 410.25Z" fill="#FF00FF"/>
<text x="785" y="416.55" class="rg" font-size="18" fill="#000">M-2</text>
<path d="M728 452.00H780" stroke="#000" stroke-width="3" stroke-linecap="round"/>
<path d="M753.50 446.50L758.30 456.20L748.70 456.20Z" fill="#FFFF00"/>
<text x="785" y="458.30" class="rg" font-size="18" fill="#000">M-3</text>
<path d="M728 493.75H780" stroke="#000" stroke-width="3" stroke-linecap="round"/>
<rect x="748.75" y="489.00" width="9.5" height="9.5" fill="#800000"/>
<text x="785" y="500.05" class="rg" font-size="18" fill="#000">M-4</text>
<path d="M728 535.50H780" stroke="#000" stroke-width="3" stroke-linecap="round"/>
<rect x="748.75" y="530.75" width="9.5" height="9.5" fill="#008080"/>
<text x="785" y="541.80" class="rg" font-size="18" fill="#000">M-5</text>
<path d="M728 577.25H779" stroke="#6B5694" stroke-width="6" stroke-linecap="round"/>
<path d="M748.40 572.15L758.60 582.35M748.40 582.35L758.60 572.15" stroke="#6B5694" stroke-width="2" fill="none"/>
<text x="785" y="583.55" class="rg" font-size="18" fill="#000">average</text>
<text transform="translate(146 629.00) scale(0.964 1)" text-anchor="end" class="ax" font-size="31">0,00</text>
<text transform="translate(146 572.50) scale(0.964 1)" text-anchor="end" class="ax" font-size="31">0,10</text>
<text transform="translate(146 516.00) scale(0.964 1)" text-anchor="end" class="ax" font-size="31">0,20</text>
<text transform="translate(146 459.50) scale(0.964 1)" text-anchor="end" class="ax" font-size="31">0,30</text>
<text transform="translate(146 403.00) scale(0.964 1)" text-anchor="end" class="ax" font-size="31">0,40</text>
<text transform="translate(146 346.50) scale(0.964 1)" text-anchor="end" class="ax" font-size="31">0,50</text>
<text transform="translate(146 290.00) scale(0.964 1)" text-anchor="end" class="ax" font-size="31">0,60</text>
<text transform="translate(146 233.50) scale(0.964 1)" text-anchor="end" class="ax" font-size="31">0,70</text>
<text transform="translate(146 177.00) scale(0.964 1)" text-anchor="end" class="ax" font-size="31">0,80</text>
<text transform="translate(146 120.50) scale(0.964 1)" text-anchor="end" class="ax" font-size="31">0,90</text>
<text transform="translate(146 64.00) scale(0.964 1)" text-anchor="end" class="ax" font-size="31">1,00</text>
<text x="172.25" y="652" text-anchor="middle" class="ax" font-size="21.3">0</text>
<text x="265.50" y="652" text-anchor="middle" class="ax" font-size="21.3">555</text>
<text x="358.75" y="652" text-anchor="middle" class="ax" font-size="21.3">1110</text>
<text x="452.00" y="652" text-anchor="middle" class="ax" font-size="21.3">1665</text>
<text x="545.25" y="652" text-anchor="middle" class="ax" font-size="21.3">2220</text>
<text x="638.50" y="652" text-anchor="middle" class="ax" font-size="21.3">2775</text>
<text x="731.75" y="652" text-anchor="middle" class="ax" font-size="21.3">3330</text>
<text x="825.00" y="652" text-anchor="middle" class="ax" font-size="21.3">3885</text>
<text x="918.25" y="652" text-anchor="middle" class="ax" font-size="21.3">4440</text>
<text x="533.7" y="687" text-anchor="middle" class="ax" font-size="26.9">Czas/ Time [h]</text>
<text transform="translate(47,423.5) rotate(-90)" text-anchor="middle" class="ax" font-size="26.65">Przemieszczenie / Displacement [mm]</text>
<text x="122" y="760" class="sf" font-size="26.5" font-weight="bold" textLength="176" lengthAdjust="spacing">Figure No 10:</text>
<text x="311.5" y="760" class="sf" font-size="26.5" textLength="491" lengthAdjust="spacing">Test B14 for a working life of 100 years</text>
</svg></body></html>
